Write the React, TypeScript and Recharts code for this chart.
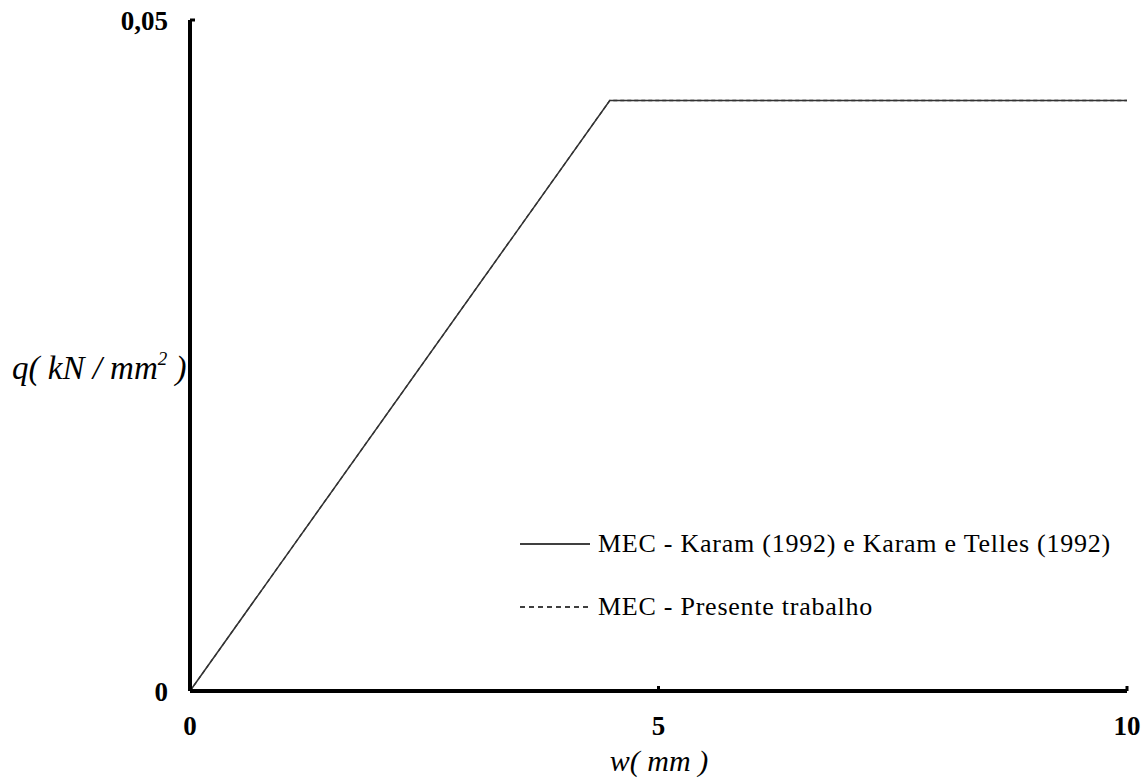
import React from 'react';
import { LineChart, Line, XAxis, YAxis, Legend, Label } from 'recharts';

const karamW = [0, 4.48, 10];
const karamQ = [0, 0.044, 0.044];
const presenteW = [0, 4.48, 10];
const presenteQ = [0, 0.044, 0.044];
const xTicks = [0, 5, 10];
const yTicks = [0, 0.05];
const xTickLabels = ['0', '5', '10'];
const yTickLabels = ['0', '0,05'];
const seriesNames = ['MEC - Karam (1992) e Karam e Telles (1992)', 'MEC - Presente trabalho'];

const karamData = karamW.map((w, i) => ({ w, q: karamQ[i] }));
const presenteData = presenteW.map((w, i) => ({ w, q: presenteQ[i] }));

const FONT = '"Liberation Serif", "Times New Roman", serif';

const XTick = (props: any) => {
  const { x, payload } = props;
  const idx = xTicks.indexOf(payload.value);
  return (
    <text x={x} y={735} textAnchor="middle" fontFamily={FONT} fontWeight="bold" fontSize={27} fill="#000">
      {xTickLabels[idx]}
    </text>
  );
};

const YTick = (props: any) => {
  const { y, payload } = props;
  const idx = yTicks.indexOf(payload.value);
  return (
    <text x={168} y={y + 10} textAnchor="end" fontFamily={FONT} fontWeight="bold" fontSize={27} fill="#000">
      {yTickLabels[idx]}
    </text>
  );
};

const YLabel = () => (
  <text x={12} y={379} fontFamily={FONT} fontStyle="italic" fontSize={33} fill="#000">
    <tspan>q( kN / mm</tspan>
    <tspan fontSize={19} dy={-14}>2</tspan>
    <tspan dy={14}> )</tspan>
  </text>
);

const XLabel = () => (
  <text x={659} y={771} textAnchor="middle" fontFamily={FONT} fontStyle="italic" fontSize={30} fill="#000">
    w( mm )
  </text>
);

const legendRow: React.CSSProperties = {
  display: 'flex',
  alignItems: 'center',
  height: 30,
  fontFamily: FONT,
  fontSize: 26,
  letterSpacing: 0.75,
  color: '#000',
  whiteSpace: 'nowrap',
};

const LegendContent = () => (
  <div style={{ width: 620 }}>
    <div style={legendRow}>
      <svg width={78} height={10}>
        <line x1={0} y1={5} x2={70} y2={5} stroke="#000" strokeWidth={1.3} />
      </svg>
      <span>{seriesNames[0]}</span>
    </div>
    <div style={{ ...legendRow, marginTop: 33 }}>
      <svg width={78} height={10}>
        <line x1={0} y1={5} x2={70} y2={5} stroke="#000" strokeWidth={1.3} strokeDasharray="5 4" />
      </svg>
      <span>{seriesNames[1]}</span>
    </div>
  </div>
);

export default function App() {
  return (
    <div style={{ position: 'absolute', left: 0, top: 0, width: 1147, height: 782, background: '#fff' }}>
      <LineChart width={1147} height={782} margin={{ top: 20, right: 20, left: 130, bottom: 51 }}>
        <XAxis
          type="number"
          dataKey="w"
          domain={[0, 10]}
          ticks={xTicks}
          height={40}
          tickSize={-5}
          axisLine={{ stroke: '#000', strokeWidth: 4 }}
          tickLine={{ stroke: '#000', strokeWidth: 3 }}
          tick={<XTick />}
          interval={0}
        >
          <Label content={<XLabel />} />
        </XAxis>
        <YAxis
          type="number"
          dataKey="q"
          domain={[0, 0.05]}
          ticks={yTicks}
          width={60}
          tickSize={-5}
          axisLine={{ stroke: '#000', strokeWidth: 4 }}
          tickLine={{ stroke: '#000', strokeWidth: 3 }}
          tick={<YTick />}
          interval={0}
        >
          <Label content={<YLabel />} />
        </YAxis>
        <Legend
          layout="vertical"
          align="center"
          verticalAlign="middle"
          content={<LegendContent />}
          wrapperStyle={{ position: 'absolute', left: 520, top: 529, width: 620, height: 100 }}
        />
        <Line
          data={karamData}
          dataKey="q"
          name={seriesNames[0]}
          type="linear"
          stroke="#333"
          strokeWidth={1.5}
          dot={false}
          isAnimationActive={false}
        />
        <Line
          data={presenteData}
          dataKey="q"
          name={seriesNames[1]}
          type="linear"
          stroke="#333"
          strokeWidth={1.3}
          strokeDasharray="4 3"
          dot={false}
          isAnimationActive={false}
        />
      </LineChart>
    </div>
  );
}
